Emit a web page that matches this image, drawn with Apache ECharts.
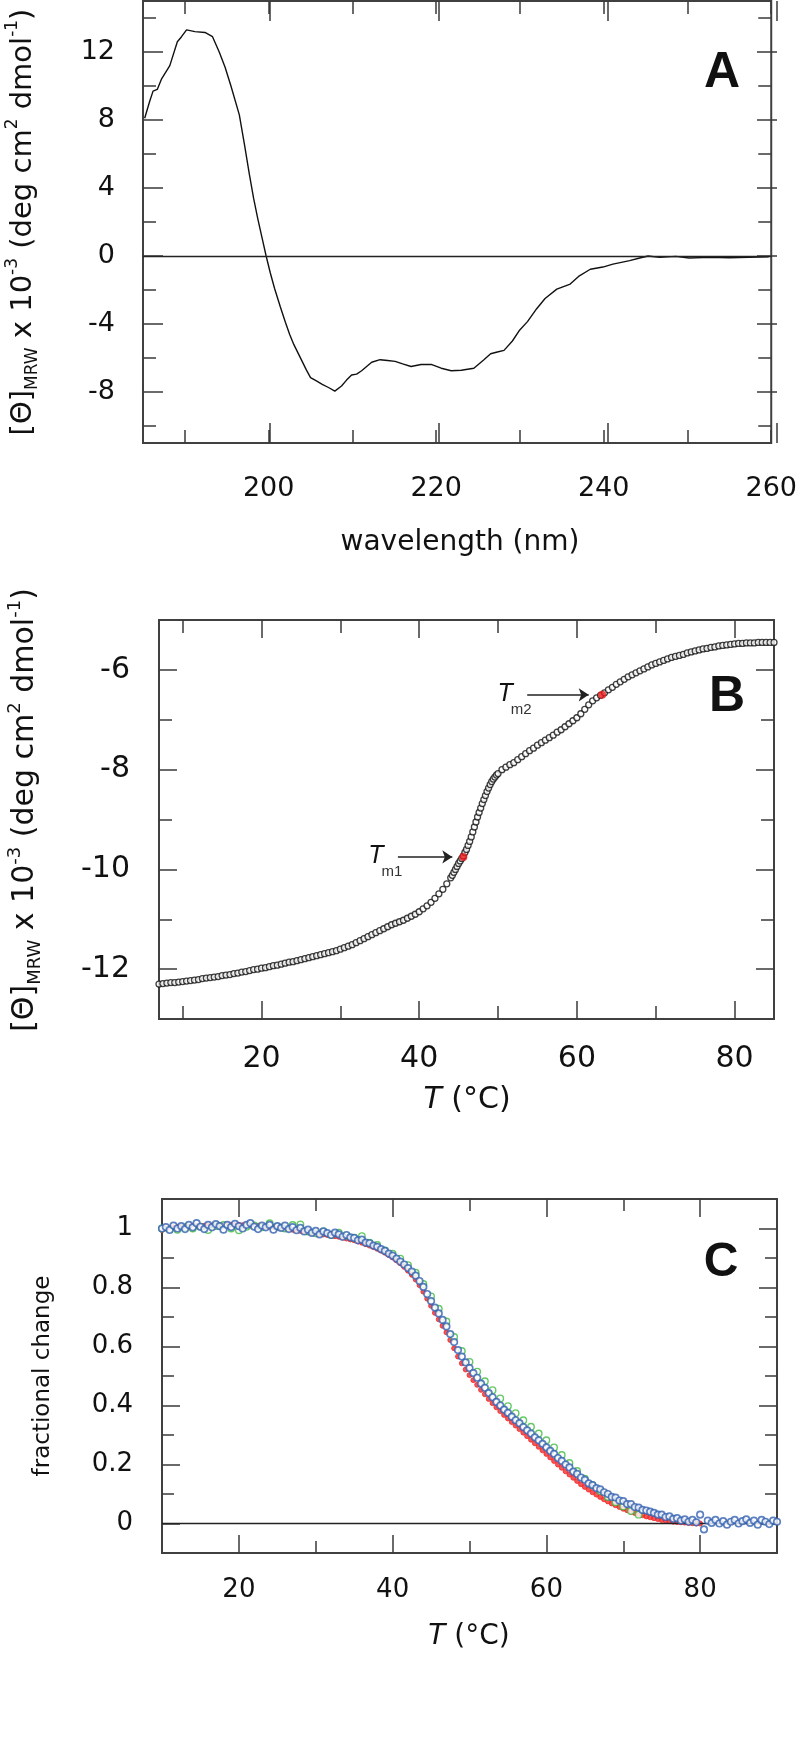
<!DOCTYPE html>
<html><head><meta charset="utf-8">
<script src="https://cdn.jsdelivr.net/npm/echarts@6/dist/echarts.min.js"></script>
<style>html,body{margin:0;padding:0;background:#fff}#c{width:800px;height:1750px}</style>
</head><body><div id="c"></div>
<script>
// ---------------- Panel A: CD spectrum ----------------
const wavelength = [185.2,185.8,186.2,186.7,187.2,188.2,189.1,189.6,190.2,191.2,192.4,193.3,194.1,194.8,195.5,196.5,197.1,197.7,198.2,198.7,199.2,199.7,200.2,200.7,201.4,202.0,202.5,203.0,203.5,204.0,204.5,205.0,205.7,206.4,207.2,207.9,208.7,209.3,209.9,210.5,211.1,211.7,212.3,213.3,214.2,215.1,216.0,217.0,218.2,219.4,220.6,221.8,223.0,224.5,225.7,226.5,227.3,228.1,229.1,229.9,230.9,232.0,233.0,234.4,235.2,236.0,237.0,238.4,239.9,241.1,243.1,244.3,245.3,246.7,248.6,250.2,252.6,255.0,257.3,259.7];
const ellipticity = [8.1,9.1,9.7,9.8,10.4,11.2,12.6,12.9,13.3,13.2,13.15,12.9,12.0,11.1,10.0,8.3,6.6,4.8,3.4,2.2,1.1,0.0,-1.0,-1.9,-3.0,-3.9,-4.6,-5.2,-5.7,-6.2,-6.7,-7.15,-7.35,-7.55,-7.75,-7.95,-7.65,-7.3,-7.0,-6.95,-6.75,-6.5,-6.25,-6.1,-6.15,-6.2,-6.35,-6.5,-6.38,-6.38,-6.6,-6.75,-6.72,-6.6,-6.1,-5.75,-5.65,-5.55,-5.0,-4.4,-3.86,-3.1,-2.5,-1.95,-1.8,-1.65,-1.2,-0.78,-0.65,-0.48,-0.27,-0.12,0.0,-0.08,-0.02,-0.12,-0.08,-0.1,-0.08,-0.04];
const aXTicks = [190,200,210,220,230,240,250,260];
const aXMajor = [200,220,240,260];
const aXLabels = [200,220,240,260];
const aYTicks = [-10,-8,-6,-4,-2,0,2,4,6,8,10,12,14];
const aYMajor = [-8,-4,0,4,8,12];
const aYLabels = [-8,-4,0,4,8,12];

// ---------------- Panel B: thermal melt ----------------
const tempB = [7,7.5,8,8.5,9,9.5,10,10.5,11,11.5,12,12.5,13,13.5,14,14.5,15,15.5,16,16.5,17,17.5,18,18.5,19,19.5,20,20.5,21,21.5,22,22.5,23,23.5,24,24.5,25,25.5,26,26.5,27,27.5,28,28.5,29,29.5,30,30.5,31,31.5,32,32.5,33,33.5,34,34.5,35,35.5,36,36.5,37,37.5,38,38.5,39,39.5,40,40.5,41,41.5,42,42.5,43,43.5,
44,44.2,44.4,44.6,44.8,45,45.2,45.4,45.6,45.8,46,46.2,46.4,46.6,46.8,47,47.2,47.4,47.6,47.8,48,48.2,48.4,48.6,48.8,49,49.2,49.4,49.6,49.8,50,
50.5,51,51.5,52,52.5,53,53.5,54,54.5,55,55.5,56,56.5,57,57.5,58,58.5,59,59.5,60,60.5,61,61.5,62,62.5,63,63.5,64,64.5,65,65.5,66,66.5,67,67.5,68,68.5,69,69.5,70,70.5,71,71.5,72,72.5,73,73.5,74,74.5,75,75.5,76,76.5,77,77.5,78,78.5,79,79.5,80,80.5,81,81.5,82,82.5,83,83.5,84,84.5,85];
const thetaB = [-12.30,-12.29,-12.28,-12.27,-12.27,-12.26,-12.25,-12.24,-12.23,-12.22,-12.21,-12.19,-12.18,-12.17,-12.16,-12.15,-12.13,-12.12,-12.11,-12.09,-12.08,-12.06,-12.05,-12.03,-12.01,-12.00,-11.98,-11.97,-11.95,-11.93,-11.92,-11.90,-11.88,-11.86,-11.85,-11.83,-11.81,-11.79,-11.77,-11.75,-11.73,-11.71,-11.69,-11.67,-11.65,-11.63,-11.60,-11.57,-11.54,-11.51,-11.47,-11.43,-11.39,-11.35,-11.31,-11.27,-11.23,-11.19,-11.15,-11.11,-11.08,-11.05,-11.02,-10.98,-10.94,-10.90,-10.85,-10.79,-10.73,-10.66,-10.58,-10.49,-10.40,-10.29,
-10.17,-10.12,-10.06,-10.00,-9.94,-9.88,-9.83,-9.78,-9.73,-9.66,-9.60,-9.52,-9.44,-9.35,-9.25,-9.15,-9.05,-8.95,-8.86,-8.77,-8.68,-8.60,-8.52,-8.44,-8.37,-8.30,-8.24,-8.19,-8.15,-8.11,-8.08,
-8.00,-7.95,-7.90,-7.86,-7.80,-7.74,-7.68,-7.62,-7.57,-7.51,-7.46,-7.41,-7.36,-7.31,-7.25,-7.20,-7.14,-7.08,-7.02,-6.96,-6.88,-6.79,-6.70,-6.62,-6.56,-6.51,-6.46,-6.40,-6.35,-6.29,-6.24,-6.19,-6.14,-6.10,-6.06,-6.02,-5.98,-5.94,-5.90,-5.87,-5.84,-5.81,-5.78,-5.75,-5.73,-5.71,-5.69,-5.66,-5.64,-5.62,-5.60,-5.58,-5.57,-5.55,-5.54,-5.52,-5.51,-5.50,-5.49,-5.48,-5.47,-5.47,-5.46,-5.46,-5.46,-5.45,-5.45,-5.45,-5.45,-5.45];
const tmTemps = [45.6, 63.2];
const tmValues = [-9.75, -6.5];
const tmNames = ['m1', 'm2'];
const tmArrowStart = [37.3, 53.7];
const tmArrowEnd = [44.2, 61.5];
const bXTicks = [10,20,30,40,50,60,70,80];
const bXMajor = [20,40,60,80];
const bXLabels = [20,40,60,80];
const bYTicks = [-12,-11,-10,-9,-8,-7,-6];
const bYMajor = [-12,-10,-8,-6];
const bYLabels = [-12,-10,-8,-6];

// ---------------- Panel C: fractional change ----------------
const tempBlue = [10,10.5,11,11.5,12,12.5,13,13.5,14,14.5,15,15.5,16,16.5,17,17.5,18,18.5,19,19.5,20,20.5,21,21.5,22,22.5,23,23.5,24,24.5,25,25.5,26,26.5,27,27.5,28,28.5,29,29.5,30,30.5,31,31.5,32,32.5,33,33.5,34,34.5,35,35.5,36,36.5,37,37.5,38,38.5,39,39.5,40,40.5,41,41.5,42,42.5,43,43.5,44,44.5,45,45.5,46,46.5,47,47.5,48,48.5,49,49.5,50,50.5,51,51.5,52,52.5,53,53.5,54,54.5,55,55.5,56,56.5,57,57.5,58,58.5,59,59.5,60,60.5,61,61.5,62,62.5,63,63.5,64,64.5,65,65.5,66,66.5,67,67.5,68,68.5,69,69.5,70,70.5,71,71.5,72,72.5,73,73.5,74,74.5,75,75.5,76,76.5,77,77.5,78,78.5,79,79.5,80,80.5,81,81.5,82,82.5,83,83.5,84,84.5,85,85.5,86,86.5,87,87.5,88,88.5,89,89.5,90];
const fracBlue = [1.00,1.005,0.995,1.01,1.0,1.008,0.998,1.012,1.004,1.018,
1.006,0.998,1.012,1.004,1.015,1.008,0.996,1.012,1.005,1.016,
1.008,1.0,1.012,1.018,1.006,0.998,1.01,1.004,1.012,0.996,
1.008,1.002,1.01,0.998,1.005,0.994,1.002,0.99,0.996,0.985,
0.992,0.98,0.99,0.984,0.978,0.986,0.98,0.972,0.978,0.97,
0.968,0.96,0.962,0.952,0.95,0.942,0.938,0.93,0.924,0.915,
0.908,0.898,0.888,0.878,0.866,0.854,0.84,0.822,0.802,0.778,
0.754,0.732,0.712,0.69,0.668,0.642,0.615,0.588,0.566,0.546,
0.527,0.51,0.494,0.474,0.46,0.442,0.428,0.412,0.4,0.386,
0.375,0.362,0.35,0.34,0.327,0.316,0.305,0.292,0.282,0.27,
0.258,0.246,0.236,0.222,0.212,0.2,0.19,0.176,0.168,0.156,
0.148,0.136,0.13,0.12,0.116,0.106,0.1,0.09,0.088,0.078,
0.076,0.066,0.066,0.056,0.054,0.046,0.044,0.04,0.036,0.03,
0.03,0.022,0.024,0.016,0.018,0.01,0.014,0.006,0.012,0.004,
0.03,-0.02,0.01,0.002,0.012,0.0,0.008,-0.004,0.006,0.012,
0.0,0.008,0.014,0.002,0.01,-0.004,0.012,0.006,-0.002,0.01,
0.006];
const tempRed = [10,10.5,11,11.5,12,12.5,13,13.5,14,14.5,15,15.5,16,16.5,17,17.5,18,18.5,19,19.5,20,20.5,21,21.5,22,22.5,23,23.5,24,24.5,25,25.5,26,26.5,27,27.5,28,28.5,29,29.5,30,30.5,31,31.5,32,32.5,33,33.5,34,34.5,35,35.5,36,36.5,37,37.5,38,38.5,39,39.5,40,40.5,41,41.5,42,42.5,43,43.5,44,44.5,45,45.5,46,46.5,47,47.5,48,48.5,49,49.5,50,50.5,51,51.5,52,52.5,53,53.5,54,54.5,55,55.5,56,56.5,57,57.5,58,58.5,59,59.5,60,60.5,61,61.5,62,62.5,63,63.5,64,64.5,65,65.5,66,66.5,67,67.5,68,68.5,69,69.5,70,70.5,71,71.5,72,72.5,73,73.5,74,74.5,75,75.5,76,76.5,77,77.5,78,78.5,79,79.5,80];
const fracRed = [0.995,1.0,1.002,1.004,1.005,1.006,1.006,1.007,1.008,1.008,
1.008,1.009,1.01,1.01,1.01,1.011,1.011,1.012,1.012,1.012,
1.012,1.011,1.011,1.01,1.01,1.009,1.008,1.007,1.006,1.005,
1.004,1.002,1.0,0.998,0.996,0.994,0.992,0.99,0.988,0.986,
0.984,0.982,0.98,0.978,0.976,0.974,0.972,0.969,0.966,0.963,
0.96,0.956,0.952,0.947,0.942,0.937,0.931,0.925,0.918,0.91,
0.902,0.892,0.882,0.87,0.857,0.843,0.827,0.808,0.786,0.762,
0.738,0.714,0.692,0.67,0.648,0.622,0.594,0.566,0.543,0.522,
0.503,0.486,0.47,0.453,0.438,0.422,0.408,0.394,0.381,0.368,
0.356,0.344,0.332,0.32,0.308,0.296,0.284,0.272,0.26,0.248,
0.236,0.224,0.212,0.2,0.189,0.177,0.166,0.155,0.144,0.133,
0.124,0.115,0.106,0.098,0.09,0.082,0.075,0.068,0.062,0.056,
0.05,0.045,0.04,0.036,0.032,0.028,0.024,0.021,0.018,0.015,
0.012,0.01,0.008,0.006,0.005,0.004,0.003,0.002,0.001,0.0,
0.0];
const tempGreen = [10,11,12,13,14,15,16,17,18,19,20,21,22,23,24,25,26,27,28,29,30,31,32,33,34,35,36,37,38,39,40,41,42,43,44,45,46,47,48,49,50,51,52,53,54,55,56,57,58,59,60,61,62,63,64,65,66,67,68,69,70,71,72];
const fracGreen = [1.0,0.998,0.996,1.004,1.0,1.006,0.995,1.008,1.012,1.0,
0.994,1.006,1.01,1.004,1.018,1.006,1.0,1.012,1.014,0.99,
0.984,0.99,0.978,0.986,0.976,0.968,0.974,0.952,0.944,0.926,
0.915,0.898,0.876,0.85,0.812,0.77,0.728,0.685,0.632,0.585,
0.548,0.515,0.482,0.452,0.424,0.398,0.374,0.35,0.328,0.305,
0.282,0.258,0.232,0.205,0.178,0.152,0.13,0.11,0.09,0.072,
0.058,0.042,0.03];
const cXTicks = [20,30,40,50,60,70,80];
const cXMajor = [20,40,60,80];
const cXLabels = [20,40,60,80];
const cYTicks = [0,0.1,0.2,0.3,0.4,0.5,0.6,0.7,0.8,0.9,1.0];
const cYMajor = [0,0.2,0.4,0.6,0.8,1.0];
const cYLabels = [0,0.2,0.4,0.6,0.8,1];

// ---------------- layout / styling ----------------
const FONT = 'DejaVu Sans';
const INK = '#111';
const LINE = '#3a3a3a';
const zip = (xs, ys) => xs.map((x, i) => [x, ys[i]]);

const panels = [
  {rect:{left:143, top:1, width:634, height:442}, xr:[185,260], yr:[-11,15],
   xt:aXTicks, xm:aXMajor, xl:aXLabels, yt:aYTicks, ym:aYMajor, yl:aYLabels,
   font:27, xMargin:32, yMargin:28, majorLen:20, minorLen:13},
  {rect:{left:159, top:620, width:615, height:399}, xr:[7,85], yr:[-13,-5],
   xt:bXTicks, xm:bXMajor, xl:bXLabels, yt:bYTicks, ym:bYMajor, yl:bYLabels,
   font:30, xMargin:25, yMargin:29, majorLen:18, minorLen:13},
  {rect:{left:162, top:1199, width:615, height:354}, xr:[10,90], yr:[-0.1,1.1],
   xt:cXTicks, xm:cXMajor, xl:cXLabels, yt:cYTicks, ym:cYMajor, yl:cYLabels,
   font:26, xMargin:24, yMargin:29, majorLen:18, minorLen:12}
];

function mkAxis(gridIndex, position, rng, ticks, len, labels, margin, font) {
  return {
    type:'value', gridIndex, position, min:rng[0], max:rng[1],
    axisLine:{show:false, onZero:false}, splitLine:{show:false},
    axisTick:{show:true, inside:true, length:len, customValues:ticks, lineStyle:{color:LINE, width:1.5}},
    axisLabel: labels ? {show:true, customValues:labels, margin, fontSize:font, fontFamily:FONT, color:INK,
                         formatter: v => String(v)} : {show:false}
  };
}

const grid = [], xAxis = [], yAxis = [];
panels.forEach((p, i) => {
  grid.push(Object.assign({show:true, borderColor:'#404040', borderWidth:2, backgroundColor:'transparent'}, p.rect));
  grid.push(Object.assign({show:false}, p.rect));
  const gm = 2*i, gM = 2*i+1;
  xAxis.push(mkAxis(gm, 'bottom', p.xr, p.xt, p.minorLen, p.xl, p.xMargin, p.font));
  xAxis.push(mkAxis(gm, 'top', p.xr, p.xt, p.minorLen, null));
  xAxis.push(mkAxis(gM, 'bottom', p.xr, p.xm, p.majorLen, null));
  xAxis.push(mkAxis(gM, 'top', p.xr, p.xm, p.majorLen, null));
  yAxis.push(mkAxis(gm, 'left', p.yr, p.yt, p.minorLen, p.yl, p.yMargin, p.font));
  yAxis.push(mkAxis(gm, 'right', p.yr, p.yt, p.minorLen, null));
  yAxis.push(mkAxis(gM, 'left', p.yr, p.ym, p.majorLen, null));
  yAxis.push(mkAxis(gM, 'right', p.yr, p.ym, p.majorLen, null));
});

const zeroLine = {silent:true, symbol:'none', label:{show:false}, lineStyle:{color:'#222', width:1.3, type:'solid'}, data:[{yAxis:0}]};

const series = [
  {type:'line', xAxisIndex:0, yAxisIndex:0, data:zip(wavelength, ellipticity), showSymbol:false, symbol:'none',
   lineStyle:{color:'#111', width:1.4}, markLine:zeroLine, z:3},
  {type:'scatter', xAxisIndex:4, yAxisIndex:4, data:zip(tempB, thetaB), symbol:'circle', symbolSize:6,
   itemStyle:{color:'#fff', borderColor:'#111', borderWidth:1.3}, z:3},
  {type:'scatter', xAxisIndex:4, yAxisIndex:4, data:zip(tmTemps, tmValues), symbol:'circle', symbolSize:8,
   itemStyle:{color:'#f01818'}, z:4,
   markLine:{silent:true, symbol:['none','arrow'], symbolSize:10, label:{show:false},
     lineStyle:{color:'#222', width:1.5, type:'solid'},
     data: tmArrowStart.map((s, i) => [{coord:[s, tmValues[i]]}, {coord:[tmArrowEnd[i], tmValues[i]]}])}},
  {type:'scatter', xAxisIndex:8, yAxisIndex:8, data:zip(tempRed, fracRed), symbol:'circle', symbolSize:5,
   itemStyle:{color:'#f42a2a', borderColor:'#f42a2a', borderWidth:1}, z:3, markLine:zeroLine},
  {type:'scatter', xAxisIndex:8, yAxisIndex:8, data:zip(tempGreen, fracGreen), symbol:'circle', symbolSize:6.5,
   itemStyle:{color:'#fff', borderColor:'#3dbb3d', borderWidth:1.4}, z:4},
  {type:'scatter', xAxisIndex:8, yAxisIndex:8, data:zip(tempBlue, fracBlue), symbol:'circle', symbolSize:6.5,
   itemStyle:{color:'#fff', borderColor:'#3461b2', borderWidth:1.7}, z:5}
];

const chart = echarts.init(document.getElementById('c'), null, {renderer:'canvas'});
chart.setOption({animation:false, backgroundColor:'#fff', grid, xAxis, yAxis, series});

// ---------------- text annotations ----------------
function thetaTitle(fs) {
  const sub = Math.round(fs*0.6);
  return {
    text:'{n|[Θ]}{sb|MRW}{n| x 10}{sp|-3}{n| (deg cm}{sp|2}{n| dmol}{sp|-1}{n|)}',
    rich:{
      n:{fontSize:fs, fontFamily:FONT, fill:INK, lineHeight:fs+8},
      sb:{fontSize:sub, fontFamily:FONT, fill:INK, lineHeight:sub, verticalAlign:'bottom'},
      sp:{fontSize:sub, fontFamily:FONT, fill:INK, lineHeight:sub, verticalAlign:'top'}
    }
  };
}
function txt(x, y, style, rot) {
  const s = Object.assign({fill:INK, fontFamily:FONT, align:'center', verticalAlign:'middle',
                           textAlign:'center', textVerticalAlign:'middle'}, style);
  const e = {type:'text', x, y, style:s, z:100};
  if (rot) e.rotation = rot;
  return e;
}
const graphics = [
  txt(23, 222, thetaTitle(29), Math.PI/2),
  txt(25, 810, thetaTitle(30), Math.PI/2),
  txt(43, 1376, {text:'fractional change', fontSize:23}, Math.PI/2),
  txt(460, 543, {text:'wavelength (nm)', fontSize:28}),
  txt(467, 1100, {text:'{i|T} (°C)', fontSize:30, rich:{i:{fontSize:30, fontStyle:'italic', fontFamily:FONT, fill:INK}}}),
  txt(469, 1637, {text:'{i|T} (°C)', fontSize:28, rich:{i:{fontSize:28, fontStyle:'italic', fontFamily:FONT, fill:INK}}}),
  txt(722, 73, {text:'A', fontSize:50, fontWeight:'bold', fontFamily:'Liberation Sans'}),
  txt(727, 697, {text:'B', fontSize:50, fontWeight:'bold', fontFamily:'Liberation Sans'}),
  txt(721, 1263, {text:'C', fontSize:48, fontWeight:'bold', fontFamily:'Liberation Sans'})
];
tmArrowStart.forEach((s, i) => {
  const p = chart.convertToPixel({xAxisIndex:4, yAxisIndex:4}, [s, tmValues[i]]);
  graphics.push(txt(p[0]-22, p[1]-1, {text:'T', fontSize:25, fontStyle:'italic', fontFamily:'Liberation Sans'}));
  graphics.push(txt(p[0]-6, p[1]+15, {text:tmNames[i], fontSize:15, fontFamily:'Liberation Sans', fill:'#333'}));
});
chart.setOption({graphic:graphics});
</script>
</body></html>
